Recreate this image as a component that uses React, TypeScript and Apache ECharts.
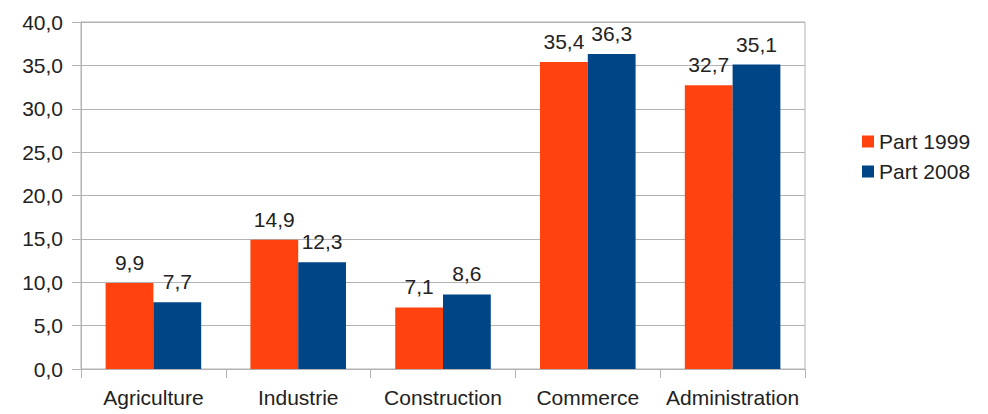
import React, { useEffect, useRef } from "react";
import * as echarts from "echarts";

const categories = ["Agriculture", "Industrie", "Construction", "Commerce", "Administration"];
const part1999 = [9.9, 14.9, 7.1, 35.4, 32.7];
const part2008 = [7.7, 12.3, 8.6, 36.3, 35.1];
const seriesNames = ["Part 1999", "Part 2008"];

const fmt = (v: number) => v.toFixed(1).replace(".", ",");

export default function App() {
  const ref = useRef<HTMLDivElement>(null);
  useEffect(() => {
    if (!ref.current) return;
    const chart = echarts.init(ref.current, undefined, { renderer: "svg" });
    const font = "'Liberation Sans', Arial, sans-serif";
    const label = {
      show: true,
      position: "top" as const,
      formatter: (p: any) => fmt(p.value),
      fontSize: 21,
      color: "#222",
      fontFamily: font,
      distance: 10,
    };
    chart.setOption({
      animation: false,
      backgroundColor: "#fff",
      grid: {
        left: 81,
        right: 183,
        top: 22,
        bottom: 45,
        show: true,
        borderColor: "#b3b3b3",
        borderWidth: 1,
      },
      legend: {
        orient: "vertical",
        left: 857,
        top: 126,
        itemWidth: 12,
        itemHeight: 12,
        itemGap: 9,
        icon: "rect",
        textStyle: { fontSize: 21, color: "#222", fontFamily: font },
        data: seriesNames,
      },
      xAxis: {
        type: "category",
        data: categories,
        axisLine: { lineStyle: { color: "#b3b3b3" } },
        axisTick: { show: true, length: 9, lineStyle: { color: "#b3b3b3" } },
        axisLabel: { fontSize: 21, color: "#222", fontFamily: font, margin: 18, interval: 0 },
      },
      yAxis: {
        type: "value",
        min: 0,
        max: 40,
        interval: 5,
        axisLine: { show: true, lineStyle: { color: "#b3b3b3" } },
        axisTick: { show: true, length: 9, lineStyle: { color: "#b3b3b3" } },
        splitLine: { lineStyle: { color: "#b3b3b3" } },
        axisLabel: { fontSize: 21, color: "#222", fontFamily: font, margin: 18, formatter: (v: number) => fmt(v) },
      },
      series: [
        {
          name: seriesNames[0],
          type: "bar",
          data: part1999,
          itemStyle: { color: "#ff420e" },
          barGap: "0%",
          barCategoryGap: "34%",
          label,
        },
        {
          name: seriesNames[1],
          type: "bar",
          data: part2008,
          itemStyle: { color: "#004586" },
          barGap: "0%",
          barCategoryGap: "34%",
          label,
        },
      ],
    });
    return () => chart.dispose();
  }, []);
  return <div ref={ref} style={{ width: 988, height: 414, position: "absolute", left: 0, top: 0 }} />;
}
